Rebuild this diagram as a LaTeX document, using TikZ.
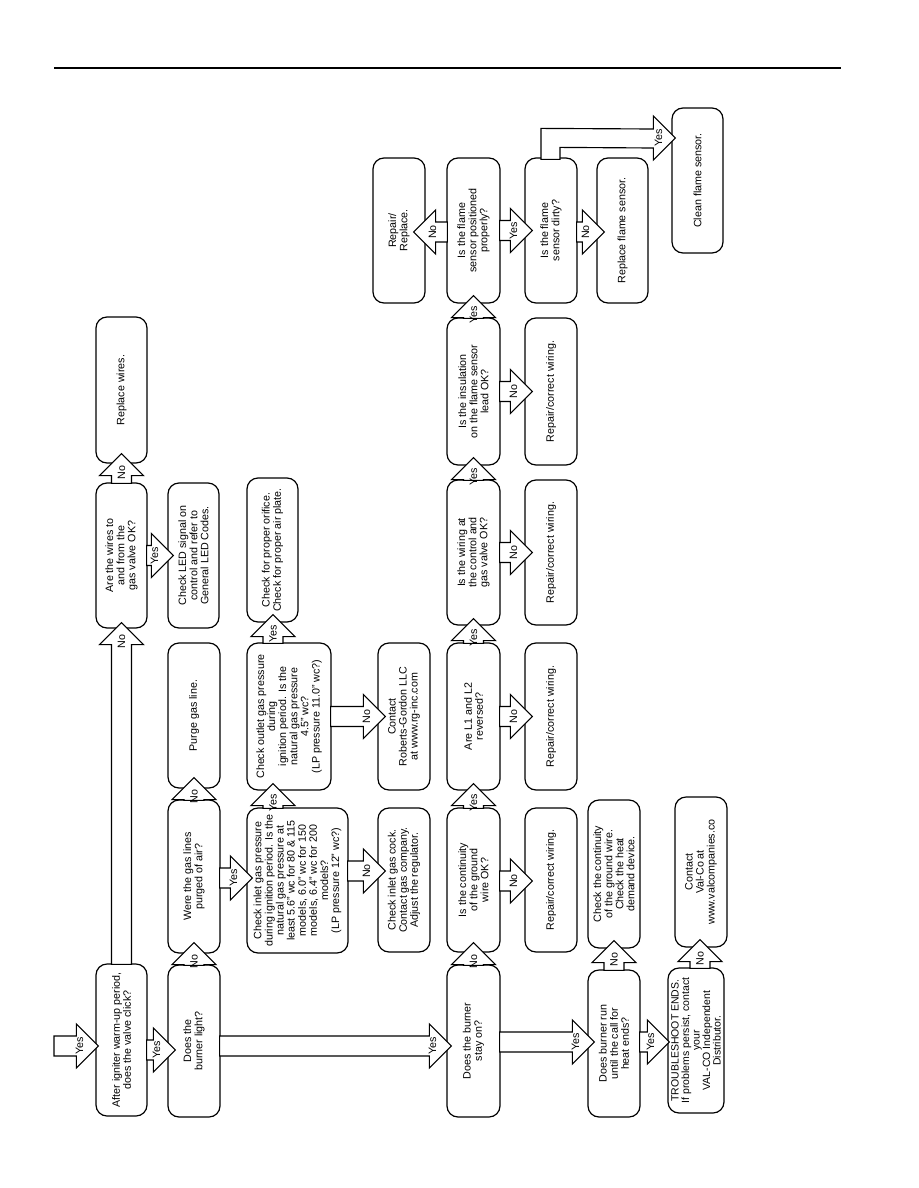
\documentclass[tikz,border=0pt]{standalone}
\usepackage{fontspec}
\setmainfont{Liberation Sans}
\usetikzlibrary{calc}
\newcommand{\fsz}{\fontsize{10.7}{11.1}\selectfont}
\newcommand{\fszt}{\fontsize{10.5}{10.5}\selectfont}
\tikzset{
  fbox/.style={draw, line width=1.2pt, rounded corners=11pt, rotate=90, align=center, font=\fsz, inner sep=1pt, fill=white},
  arrline/.style={draw, fill=white, line width=1.15pt, line join=miter},
  lbl/.style={rotate=90, font=\fsz, inner sep=0pt},
  rule/.style={line width=1.5pt},
}
\newcommand{\bx}[5]{\node[fbox, minimum width=#4pt, minimum height=#5pt] (#1) at (#2) {#3};}
\newcommand{\barr}[3]{%
  \coordinate (bS) at #1;
  \coordinate (bT) at #2;
  \coordinate (bH) at ($(bT)!22pt!(bS)$);
  \path[arrline] ($(bS)!10pt!90:(bT)$) -- ($(bH)!10pt!90:(bT)$) -- ($(bH)!22pt!90:(bT)$) -- (bT) -- ($(bH)!22pt!-90:(bT)$) -- ($(bH)!10pt!-90:(bT)$) -- ($(bS)!10pt!-90:(bT)$) -- cycle;
  \node[lbl] at ($(bH)!3pt!(bT)$) {#3};
}
\begin{document}
\begin{tikzpicture}[x=1pt, y=-1pt]
\useasboundingbox[fill=white] (0,0) rectangle (918,1188);
\coordinate (ruleL) at (54,68);
\coordinate (ruleR) at (841,68);
\draw[rule] (ruleL) -- (ruleR);

% column 1
\bx{igniter}{121.5,1040}{After igniter warm-up period,\\does the valve click?}{152}{51}
\bx{wires}{121.5,555.5}{Are the wires to\\and from the\\gas valve OK?}{145}{51}
\bx{replacewires}{121.5,390}{Replace wires.}{146}{51}
% column 2
\bx{burnerlight}{194,1041}{Does the\\burner light?}{152}{52}
\bx{gaslines}{194,876.5}{Were the gas lines\\purged of air?}{153}{52}
\bx{purge}{194,715.5}{Purge gas line.}{145}{52}
\bx{led}{193.5,555.5}{Check LED signal on\\control and refer to\\General LED Codes.}{145}{51}
% column 3
\bx{inlet}{297.5,880.5}{Check inlet gas pressure\\during ignition period. Is the\\natural gas pressure at\\least 5.6" wc for 80 \& 115\\models, 6.0" wc for 150\\models, 6.4" wc for 200\\models?\\(LP pressure 12" wc?)}{145}{101}
\bx{outlet}{289,716.5}{Check outlet gas pressure\\during\\ignition period. Is the\\natural gas pressure\\4.5" wc?\\(LP pressure 11.0" wc?)}{147}{84}
\bx{orifice}{272.5,550}{Check for proper orifice.\\Check for proper air plate.}{144}{51}
\bx{gascock}{404,880}{Check inlet gas cock.\\Contact gas company.\\Adjust the regulator.}{144}{52}
\bx{roberts}{404,716.5}{Contact\\Roberts-Gordon LLC\\at www.rg-inc.com}{147}{52}
\bx{repairreplace}{399,230.5}{Repair/\\Replace.}{145}{52}
% column 4
\bx{stayon}{473.5,1041}{Does the burner\\stay on?}{152}{53}
\bx{continuity}{473.5,880}{Is the continuity\\of the ground\\wire OK?}{144}{53}
\bx{lonetwo}{473.5,716.5}{Are L1 and L2\\reversed?}{147}{53}
\bx{wiring}{473.5,552.5}{Is the wiring at\\the control and\\gas valve OK?}{145}{53}
\bx{insulation}{473.5,391.5}{Is the insulation\\on the flame sensor\\lead OK?}{147}{53}
\bx{positioned}{473.5,230.5}{Is the flame\\sensor positioned\\properly?}{145}{53}
% column 5
\bx{repairA}{551,880}{Repair/correct wiring.}{144}{52}
\bx{repairB}{551,716.5}{Repair/correct wiring.}{147}{52}
\bx{repairC}{551,552.5}{Repair/correct wiring.}{145}{52}
\bx{repairD}{551,391.5}{Repair/correct wiring.}{147}{52}
\bx{dirty}{551,230.5}{Is the flame\\sensor dirty?}{145}{52}
% column 6
\bx{replaceflame}{622.5,230.5}{Replace flame sensor.}{145}{51}
\bx{checkcont}{614,874}{Check the continuity\\of the ground wire.\\Check the heat\\demand device.}{148}{52}
\bx{burnerrun}{614,1043.5}{Does burner run\\until the call for\\heat ends?}{147}{52}
% column 7
\bx{clean}{697.5,180.5}{Clean flame sensor.}{145}{51}
\bx{valco}{701,872}{Contact\\Val-Co at\\www.valcompanies.co}{150}{52}
\node[fbox, font=\fszt, minimum width=145pt, minimum height=56pt, inner sep=0.5pt] (troubleshoot) at (696,1040.5) {TROUBLESHOOT ENDS.\\If problems persist, contact\\your\\VAL-CO Independent\\Distributor.};

% arrows
\coordinate (entry) at (54,1046);
\barr{(entry)}{($(igniter.north)+(3,6)$)}{Yes}
\barr{($(igniter.south)+(-1,10)$)}{($(burnerlight.north)+(8,9)$)}{Yes}
\barr{($(igniter.east)+(0,1)$)}{($(wires.west)+(0,-6)$)}{No}
\barr{($(wires.east)+(0,1)$)}{($(replacewires.west)+(0,-10)$)}{No}
\barr{($(wires.south)+(-1,0)$)}{($(led.north)+(6,0)$)}{Yes}
\barr{($(burnerlight.east)+(0,1)$)}{($(gaslines.west)+(0,-11)$)}{No}
\barr{($(gaslines.east)+(0,1)$)}{($(purge.west)+(0,-11)$)}{No}
\barr{($(gaslines.south)+(-1,1.5)$)}{($(inlet.north)+(6,-2.5)$)}{Yes}
\barr{($(inlet.east)+(-24.5,1)$)}{($(outlet.west)+(-16,-7)$)}{Yes}
\barr{($(outlet.east)+(-16,1)$)}{($(orifice.west)+(0.5,-8)$)}{Yes}
\barr{($(inlet.south)+(-1,-9.5)$)}{($(gascock.north)+(8,-9)$)}{No}
\barr{($(outlet.south)+(-1,0)$)}{($(roberts.north)+(8,0)$)}{No}
\barr{($(burnerlight.south)+(-1,5)$)}{($(stayon.north)+(5,5)$)}{Yes}
\barr{($(stayon.east)+(0,1)$)}{($(continuity.west)+(0,-10)$)}{No}
\barr{($(continuity.east)+(0,1)$)}{($(lonetwo.west)+(0,-7)$)}{Yes}
\barr{($(lonetwo.east)+(0,1)$)}{($(wiring.west)+(0,-7)$)}{Yes}
\barr{($(wiring.east)+(0,1)$)}{($(insulation.west)+(0,-8)$)}{Yes}
\barr{($(insulation.east)+(0,1)$)}{($(positioned.west)+(0,-8)$)}{Yes}
\barr{($(continuity.south)+(-1,1)$)}{($(repairA.north)+(8,1)$)}{No}
\barr{($(lonetwo.south)+(-1,0)$)}{($(repairB.north)+(8,0)$)}{No}
\barr{($(wiring.south)+(-1,0)$)}{($(repairC.north)+(8,0)$)}{No}
\barr{($(insulation.south)+(-1,0)$)}{($(repairD.north)+(8,0)$)}{No}
\barr{($(positioned.north)+(1,1.5)$)}{($(repairreplace.south)+(-12,1.5)$)}{No}
\barr{($(positioned.south)+(-1,0)$)}{($(dirty.north)+(8,0)$)}{Yes}
\barr{($(dirty.south)+(-1,1.5)$)}{($(replaceflame.north)+(8,1.5)$)}{No}
\barr{($(stayon.south)+(-1,1)$)}{($(burnerrun.north)+(7,-1.5)$)}{Yes}
\barr{($(burnerrun.east)+(0,1)$)}{($(checkcont.west)+(0,-8)$)}{No}
\barr{($(burnerrun.south)+(-1,-1.5)$)}{($(troubleshoot.north)+(2,1.5)$)}{Yes}
\barr{($(troubleshoot.east)+(4,1)$)}{($(valco.west)+(-1,-8)$)}{No}
% bent arrow dirty -> clean
\path[arrline] ($(dirty.east)+(-10,2)$) -- ($(dirty.east)+(-10,-29)$) -- ($(clean.north)+(-18,-51.5)$) -- ($(clean.north)+(-18,-64.5)$) -- ($(clean.north)+(4,-42.5)$) -- ($(clean.north)+(-18,-20.5)$) -- ($(clean.north)+(-18,-32.5)$) -- ($(dirty.east)+(9,-10)$) -- ($(dirty.east)+(9,2)$) -- cycle;
\node[lbl] (yesclean) at ($(clean.north)+(-13,-42.5)$) {Yes};
\end{tikzpicture}
\end{document}
